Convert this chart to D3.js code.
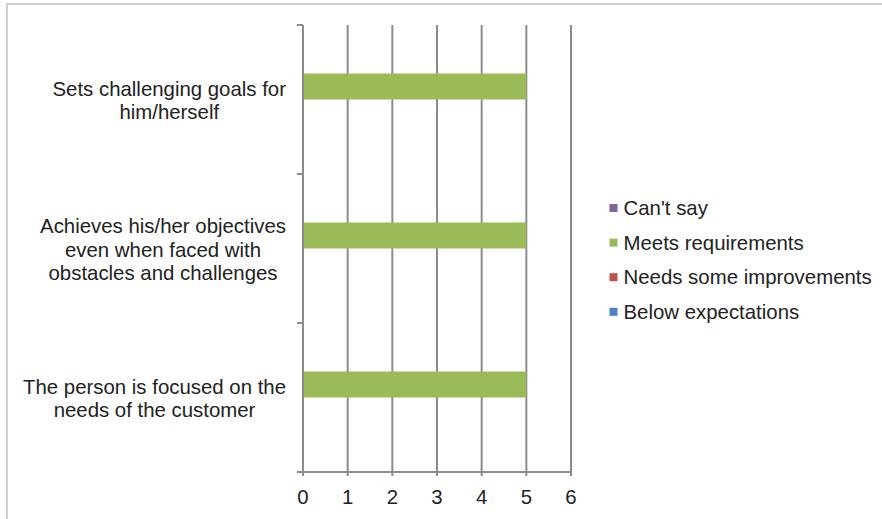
<!DOCTYPE html>
<html>
<head>
<meta charset="utf-8">
<script src="https://cdn.jsdelivr.net/npm/d3@7"></script>
<style>
  html, body { margin: 0; padding: 0; background: #fff; }
  svg { display: block; font-family: "Liberation Sans", Arial, sans-serif; }
</style>
</head>
<body>
<svg id="chart" width="882" height="519"></svg>
<script>
// Survey categories, listed bottom-to-top as on the category axis
const categories = [
  "The person is focused on the needs of the customer",
  "Achieves his/her objectives even when faced with obstacles and challenges",
  "Sets challenging goals for him/herself"
];
const categoryLines = [
  ["The person is focused on the", "needs of the customer"],
  ["Achieves his/her objectives", "even when faced with", "obstacles and challenges"],
  ["Sets challenging goals for", "him/herself"]
];
// Rating series (first series sits at the bottom of each group)
const seriesNames = ["Below expectations", "Needs some improvements", "Meets requirements", "Can't say"];
const seriesColors = ["#4F81BD", "#C0504D", "#9BBB59", "#8064A2"];
const belowExpectations = [0, 0, 0];
const needsImprovements = [0, 0, 0];
const meetsRequirements = [5, 5, 5];
const cantSay = [0, 0, 0];
const seriesValues = [belowExpectations, needsImprovements, meetsRequirements, cantSay];
const xTicks = [0, 1, 2, 3, 4, 5, 6];

const svg = d3.select("#chart");
const fontSize = 20.4;
const textColor = "#222";

// outer frame
svg.append("path")
  .attr("d", "M7,520 L7,4 L883,4")
  .attr("fill", "none")
  .attr("stroke", "#cfcfcf")
  .attr("stroke-width", 2);

const x = d3.scaleLinear().domain([0, 6]).range([303, 571]);
const y = d3.scaleBand().domain(categories.slice().reverse()).range([25, 472]);
const ySeries = d3.scaleBand()
  .domain(seriesNames.slice().reverse())
  .range([0, y.bandwidth()])
  .paddingInner(0)
  .paddingOuter(0.865);

const gridColor = "#8c8c8c";

// vertical gridlines with small tick marks below the axis
svg.append("g")
  .selectAll("line")
  .data(xTicks)
  .join("line")
  .attr("x1", d => x(d)).attr("x2", d => x(d))
  .attr("y1", 25).attr("y2", 476)
  .attr("stroke", gridColor)
  .attr("stroke-width", 2);

// bars
const rows = [];
seriesNames.forEach((s, si) => {
  categories.forEach((c, ci) => {
    rows.push({ series: s, cat: c, value: seriesValues[si][ci], color: seriesColors[si] });
  });
});
svg.append("g")
  .selectAll("rect")
  .data(rows)
  .join("rect")
  .attr("x", x(0))
  .attr("y", d => y(d.cat) + ySeries(d.series))
  .attr("width", d => x(d.value) - x(0))
  .attr("height", ySeries.bandwidth())
  .attr("fill", d => d.color);

// category axis (vertical) with outward ticks at band edges
const catEdges = categories.map(c => y(c)).concat([472]);
svg.append("line")
  .attr("x1", x(0)).attr("x2", x(0))
  .attr("y1", 25).attr("y2", 472)
  .attr("stroke", gridColor).attr("stroke-width", 2);
svg.append("g")
  .selectAll("line")
  .data(catEdges)
  .join("line")
  .attr("x1", x(0) - 6).attr("x2", x(0))
  .attr("y1", d => d).attr("y2", d => d)
  .attr("stroke", gridColor).attr("stroke-width", 2);

// value axis (horizontal)
svg.append("line")
  .attr("x1", x(0) - 6).attr("x2", x(6))
  .attr("y1", 472).attr("y2", 472)
  .attr("stroke", gridColor).attr("stroke-width", 2);

svg.append("g")
  .selectAll("text")
  .data(xTicks)
  .join("text")
  .attr("x", d => x(d))
  .attr("y", 504)
  .attr("text-anchor", "middle")
  .attr("font-size", fontSize)
  .attr("fill", textColor)
  .text(d => d);

// category labels: each wrapped block is centred on its own width,
// with its widest line ending just left of the axis
const labelRight = 286;
const labelG = svg.append("g");
categories.forEach((c, i) => {
  const lines = categoryLines[i];
  const cy = y(c) + y.bandwidth() / 2;
  const lh = 23.5;
  const t = labelG.append("text")
    .attr("text-anchor", "middle")
    .attr("font-size", fontSize)
    .attr("fill", textColor);
  const spans = lines.map((ln, k) => t.append("tspan")
    .attr("y", cy + (k - (lines.length - 1) / 2) * lh + 8)
    .text(ln));
  const maxW = d3.max(spans, s => s.node().getComputedTextLength());
  spans.forEach(s => s.attr("x", labelRight - maxW / 2));
});

// legend, listed top-to-bottom in reverse series order
const legendOrder = seriesNames.map((s, i) => ({ name: s, color: seriesColors[i] })).reverse();
const lg = svg.append("g")
  .selectAll("g")
  .data(legendOrder)
  .join("g")
  .attr("transform", (d, i) => `translate(609.5, ${215 + i * 34.6})`);
lg.append("rect")
  .attr("x", 0).attr("y", -11)
  .attr("width", 8).attr("height", 8)
  .attr("fill", d => d.color);
lg.append("text")
  .attr("x", 14).attr("y", 0)
  .attr("font-size", fontSize)
  .attr("fill", textColor)
  .text(d => d.name);
</script>
</body>
</html>
